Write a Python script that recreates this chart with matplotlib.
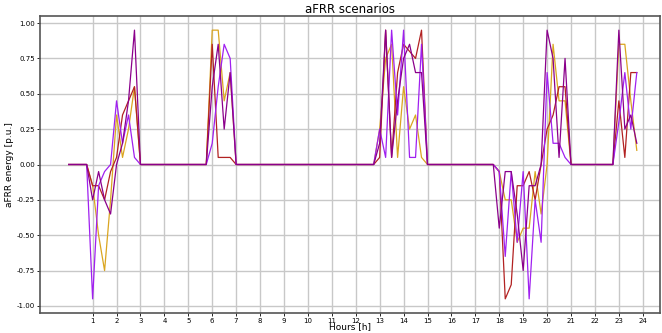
import matplotlib
matplotlib.use("Agg")
import matplotlib.pyplot as plt
import numpy as np

# quarter-hour time stamps (hours)
hours = [i * 0.25 for i in range(96)]

Z = 0.0
scenario_orange = [
    Z, Z, Z, 0.0, -0.15, -0.5, -0.75, -0.25, 0.35, 0.05, 0.25, 0.55, 0.0,
    Z, Z, Z, Z, Z, Z, Z, Z, Z, Z,
    0.0, 0.95, 0.95, 0.45, 0.65, 0.0,
    Z, Z, Z, Z, Z, Z, Z, Z, Z, Z, Z, Z, Z, Z, Z, Z, Z, Z, Z, Z, Z, Z,
    0.0, 0.25, 0.75, 0.85, 0.05, 0.55, 0.25, 0.35, 0.05, 0.0,
    Z, Z, Z, Z, Z, Z, Z, Z, Z, Z,
    0.0, -0.05, -0.25, -0.25, -0.55, -0.45, -0.45, -0.05, -0.35, 0.0, 0.85, 0.45, 0.45, 0.0,
    Z, Z, Z, Z, Z, Z,
    0.0, 0.85, 0.85, 0.45, 0.1,
]
scenario_red = [
    Z, Z, Z, 0.0, -0.15, -0.15, -0.25, -0.05, 0.05, 0.35, 0.45, 0.55, 0.0,
    Z, Z, Z, Z, Z, Z, Z, Z, Z, Z,
    0.0, 0.85, 0.05, 0.05, 0.05, 0.0,
    Z, Z, Z, Z, Z, Z, Z, Z, Z, Z, Z, Z, Z, Z, Z, Z, Z, Z, Z, Z, Z, Z,
    0.0, 0.05, 0.95, 0.05, 0.65, 0.85, 0.8, 0.75, 0.95, 0.0,
    Z, Z, Z, Z, Z, Z, Z, Z, Z, Z,
    0.0, -0.05, -0.95, -0.85, -0.15, -0.15, -0.05, -0.25, 0.0, 0.25, 0.35, 0.55, 0.55, 0.0,
    Z, Z, Z, Z, Z, Z,
    0.0, 0.45, 0.05, 0.65, 0.65,
]
scenario_violet = [
    Z, Z, Z, 0.0, -0.95, -0.15, -0.05, 0.0, 0.45, 0.15, 0.35, 0.05, 0.0,
    Z, Z, Z, Z, Z, Z, Z, Z, Z, Z,
    0.0, 0.15, 0.55, 0.85, 0.75, 0.0,
    Z, Z, Z, Z, Z, Z, Z, Z, Z, Z, Z, Z, Z, Z, Z, Z, Z, Z, Z, Z, Z, Z,
    0.0, 0.25, 0.05, 0.95, 0.35, 0.95, 0.05, 0.05, 0.85, 0.0,
    Z, Z, Z, Z, Z, Z, Z, Z, Z, Z,
    0.0, -0.05, -0.65, -0.05, -0.55, -0.05, -0.95, -0.25, -0.55, 0.65, 0.15, 0.15, 0.05, 0.0,
    Z, Z, Z, Z, Z, Z,
    0.0, 0.3, 0.65, 0.25, 0.65,
]
scenario_magenta = [
    Z, Z, Z, 0.0, -0.25, -0.05, -0.25, -0.35, 0.0, 0.15, 0.45, 0.95, 0.0,
    Z, Z, Z, Z, Z, Z, Z, Z, Z, Z,
    0.0, 0.55, 0.85, 0.25, 0.65, 0.0,
    Z, Z, Z, Z, Z, Z, Z, Z, Z, Z, Z, Z, Z, Z, Z, Z, Z, Z, Z, Z, Z, Z,
    0.0, 0.15, 0.95, 0.05, 0.45, 0.75, 0.85, 0.65, 0.65, 0.0,
    Z, Z, Z, Z, Z, Z, Z, Z, Z, Z,
    0.0, -0.45, -0.05, -0.05, -0.35, -0.75, -0.15, -0.15, 0.0, 0.95, 0.75, 0.05, 0.75, 0.0,
    Z, Z, Z, Z, Z, Z,
    0.0, 0.95, 0.25, 0.35, 0.15,
]

series = [scenario_orange, scenario_red, scenario_violet, scenario_magenta]
colors = ["#DAA520", "#B22222", "#A020F0", "#8B008B"]

x_ticks = list(range(1, 25))
y_ticks = [-1.0, -0.75, -0.5, -0.25, 0.0, 0.25, 0.5, 0.75, 1.0]

fig = plt.figure(figsize=(6.62, 3.33), dpi=100)
ax = fig.add_axes([40 / 662, 20 / 333, 620 / 662, 297 / 333])

for s, c in zip(series, colors):
    ax.plot(hours, s, color=c, lw=0.9)

ax.set_xlim(-1.2, 24.72)
ax.set_ylim(-1.05, 1.05)
ax.set_xticks(x_ticks)
ax.set_yticks(y_ticks)
ax.set_yticklabels([f"{v:.2f}" for v in y_ticks])
ax.tick_params(labelsize=5, length=2, width=0.6, pad=1.5)
ax.grid(True, color="#c8c8c8", lw=1.0)
ax.set_axisbelow(True)
for sp in ax.spines.values():
    sp.set_color("#555555")
    sp.set_linewidth(1.2)

ax.set_title("aFRR scenarios", fontsize=8.5, pad=2)
ax.set_xlabel("Hours [h]", fontsize=6.5, labelpad=-1)
ax.set_ylabel("aFRR energy [p.u.]", fontsize=6.5, labelpad=2)

fig.savefig("out.png", dpi=100)
